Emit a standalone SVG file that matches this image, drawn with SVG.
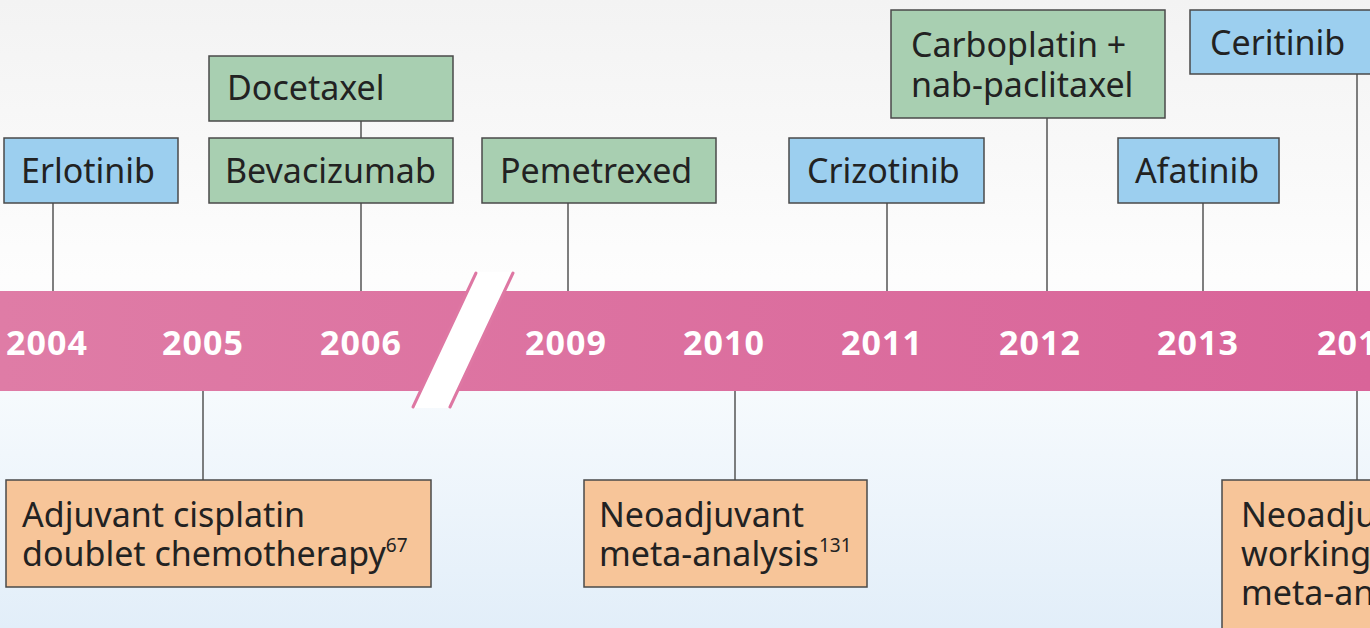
<svg xmlns="http://www.w3.org/2000/svg" width="1370" height="628" viewBox="0 0 1370 628">
<defs>
<linearGradient id="bg" x1="0" y1="0" x2="0" y2="1">
<stop offset="0" stop-color="#f3f3f3"/>
<stop offset="0.44" stop-color="#fdfdfd"/>
<stop offset="0.63" stop-color="#f6fafd"/>
<stop offset="1" stop-color="#e2eef9"/>
</linearGradient>
<linearGradient id="band" x1="0" y1="0" x2="1" y2="0">
<stop offset="0" stop-color="#df7ca6"/>
<stop offset="1" stop-color="#d96499"/>
</linearGradient>
<style>
.box{stroke:#4a4a4a;stroke-width:1.5}
.blue{fill:#9ccfef}
.green{fill:#a8cfb1}
.orange{fill:#f7c599}
.lbl{font-family:"Noto Sans","Open Sans",sans-serif;font-size:34px;fill:#222}
.sup{font-size:19px}
.yr{font-family:"Noto Sans","Open Sans",sans-serif;font-size:34px;font-weight:bold;fill:#fff;text-anchor:middle;letter-spacing:1px}
.conn{stroke:#555;stroke-width:1.5;fill:none}
.brk{stroke:#de77a3;stroke-width:3;stroke-linecap:round}
</style>
</defs>
<rect width="1370" height="628" fill="url(#bg)"/>
<g id="connectors">
<line class="conn" x1="53" y1="203" x2="53" y2="292"/>
<line class="conn" x1="361" y1="121" x2="361" y2="138"/>
<line class="conn" x1="361" y1="203" x2="361" y2="292"/>
<line class="conn" x1="568" y1="203" x2="568" y2="292"/>
<line class="conn" x1="887" y1="203" x2="887" y2="292"/>
<line class="conn" x1="1047" y1="118" x2="1047" y2="292"/>
<line class="conn" x1="1203" y1="203" x2="1203" y2="292"/>
<line class="conn" x1="1357" y1="74" x2="1357" y2="292"/>
<line class="conn" x1="203" y1="390" x2="203" y2="480"/>
<line class="conn" x1="735" y1="390" x2="735" y2="480"/>
<line class="conn" x1="1357" y1="390" x2="1357" y2="480"/>
</g>
<g id="timeline">
<rect x="0" y="291" width="1370" height="100" fill="url(#band)"/>
<polygon points="476,272 513,272 450,408 412,408" fill="#fff"/>
<line class="brk" x1="476" y1="273" x2="413" y2="407"/>
<line class="brk" x1="513" y1="273" x2="450" y2="407"/>
<text class="yr" x="47" y="355">2004</text>
<text class="yr" x="203" y="355">2005</text>
<text class="yr" x="361" y="355">2006</text>
<text class="yr" x="566" y="355">2009</text>
<text class="yr" x="724" y="355">2010</text>
<text class="yr" x="882" y="355">2011</text>
<text class="yr" x="1040" y="355">2012</text>
<text class="yr" x="1198" y="355">2013</text>
<text class="yr" x="1358" y="355">2014</text>
</g>
<g id="erlotinib"><rect class="box blue" x="4" y="138" width="174" height="65"/><text class="lbl" x="21" y="183">Erlotinib</text></g>
<g id="docetaxel"><rect class="box green" x="209" y="56" width="244" height="65"/><text class="lbl" x="227" y="100">Docetaxel</text></g>
<g id="bevacizumab"><rect class="box green" x="209" y="138" width="244" height="65"/><text class="lbl" x="225" y="183">Bevacizumab</text></g>
<g id="pemetrexed"><rect class="box green" x="482" y="138" width="234" height="65"/><text class="lbl" x="500" y="183">Pemetrexed</text></g>
<g id="crizotinib"><rect class="box blue" x="789" y="138" width="195" height="65"/><text class="lbl" x="807" y="183">Crizotinib</text></g>
<g id="carboplatin"><rect class="box green" x="891" y="10" width="274" height="108"/><text class="lbl" x="911" y="57">Carboplatin +</text><text class="lbl" x="911" y="97">nab-paclitaxel</text></g>
<g id="afatinib"><rect class="box blue" x="1118" y="138" width="161" height="65"/><text class="lbl" x="1135" y="183">Afatinib</text></g>
<g id="ceritinib"><rect class="box blue" x="1190" y="10" width="200" height="64"/><text class="lbl" x="1210" y="55">Ceritinib</text></g>
<g id="adjuvant"><rect class="box orange" x="6" y="480" width="425" height="107"/><text class="lbl" x="22" y="527">Adjuvant cisplatin</text><text class="lbl" x="22" y="566">doublet chemotherapy<tspan class="sup" dy="-14">67</tspan></text></g>
<g id="neoadjuvant-meta"><rect class="box orange" x="584" y="480" width="283" height="107"/><text class="lbl" x="599" y="527">Neoadjuvant</text><text class="lbl" x="599" y="566">meta-analysis<tspan class="sup" dy="-14">131</tspan></text></g>
<g id="neoadjuvant-working"><rect class="box orange" x="1222" y="480" width="200" height="160"/><text class="lbl" x="1241" y="527">Neoadjuvant</text><text class="lbl" x="1241" y="566">working group</text><text class="lbl" x="1241" y="605">meta-analysis</text></g>
</svg>
